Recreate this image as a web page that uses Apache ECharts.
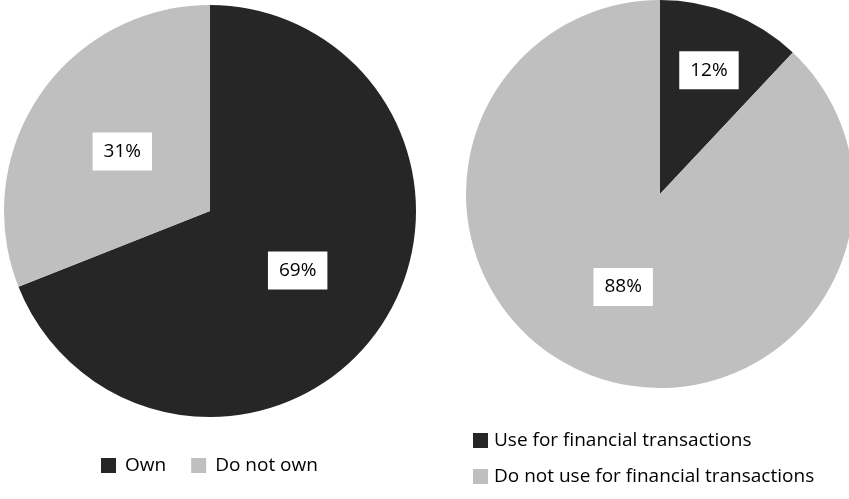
<!DOCTYPE html>
<html>
<head>
<meta charset="utf-8">
<script src="https://cdn.jsdelivr.net/npm/echarts@6/dist/echarts.min.js"></script>
<style>
  html, body { margin: 0; padding: 0; background: #fff; }
  #chart { width: 849px; height: 499px; }
</style>
</head>
<body>
<div id="chart"></div>
<script>
// Phone ownership and use for financial transactions (%)
const ownNames = ['Own', 'Do not own'];
const ownValues = [69, 31];
const useNames = ['Use for financial transactions', 'Do not use for financial transactions'];
const useValues = [12, 88];

const DARK = '#262626';
const LIGHT = '#bfbfbf';
const FONT = '"Open Sans", Lato, sans-serif';

const labelStyle = {
  show: true,
  position: 'inside',
  formatter: '{c}%',
  backgroundColor: '#ffffff',
  padding: [9, 11],
  color: '#000000',
  fontSize: 19,
  fontFamily: FONT,
  lineHeight: 20
};

function slices(names, values, labelShown) {
  return names.map((n, i) => ({
    name: n,
    value: values[i],
    itemStyle: { color: i === 0 ? DARK : LIGHT },
    label: { show: labelShown ? labelShown[i] : true }
  }));
}

const chart = echarts.init(document.getElementById('chart'), null, { renderer: 'canvas' });
chart.setOption({
  animation: false,
  backgroundColor: '#ffffff',
  legend: [
    {
      data: ownNames,
      orient: 'horizontal',
      left: 101,
      top: 456,
      padding: 0,
      icon: 'rect',
      itemWidth: 15,
      itemHeight: 15,
      itemGap: 25,
      textStyle: { fontSize: 19, lineHeight: 19, color: '#000', fontFamily: FONT, padding: [0, 0, 0, 4] }
    },
    {
      data: useNames,
      orient: 'vertical',
      left: 473,
      top: 431,
      padding: 0,
      icon: 'rect',
      itemWidth: 15,
      itemHeight: 15,
      itemGap: 17,
      textStyle: { fontSize: 19, lineHeight: 19, color: '#000', fontFamily: FONT, padding: [0, 0, 0, 1] }
    }
  ],
  series: [
    {
      type: 'pie',
      center: [210, 211],
      radius: 206,
      startAngle: 90,
      clockwise: true,
      silent: true,
      label: labelStyle,
      labelLine: { show: false },
      data: slices(ownNames, ownValues)
    },
    {
      type: 'pie',
      center: [660, 194],
      radius: 194,
      startAngle: 90,
      clockwise: true,
      silent: true,
      label: labelStyle,
      labelLine: { show: false },
      data: slices(useNames, useValues, [false, true])
    },
    {
      // transparent ring that carries the small slice's label further out
      type: 'pie',
      center: [660, 194],
      radius: [66, 194],
      startAngle: 90,
      clockwise: true,
      silent: true,
      legendHoverLink: false,
      label: labelStyle,
      labelLine: { show: false },
      itemStyle: { color: 'rgba(0,0,0,0)' },
      data: useNames.map((n, i) => ({
        name: n,
        value: useValues[i],
        itemStyle: { color: 'rgba(0,0,0,0)' },
        label: { show: i === 0 }
      }))
    }
  ]
});
</script>
</body>
</html>
